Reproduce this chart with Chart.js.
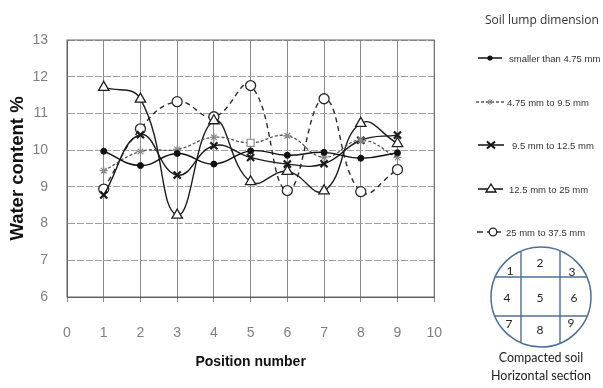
<!DOCTYPE html>
<html>
<head>
<meta charset="utf-8">
<script src="https://cdn.jsdelivr.net/npm/chart.js@4"></script>
<style>
  html,body{margin:0;padding:0;background:#fff;width:603px;height:388px;overflow:hidden;}
  #wrap{position:absolute;left:0;top:0;width:465px;height:388px;}
  #side{position:absolute;left:0;top:0;}
</style>
</head>
<body>
<div id="wrap"><canvas id="c" width="465" height="388"></canvas></div>
<svg id="side" width="603" height="388" xmlns="http://www.w3.org/2000/svg"></svg>
<script>
// ---- data ----
const positions = [1, 2, 3, 4, 5, 6, 7, 8, 9];
const seriesNames = [
  "smaller than 4.75 mm",
  "4.75 mm to 9.5 mm",
  "9.5 mm to 12.5 mm",
  "12.5 mm to 25 mm",
  "25 mm to 37.5 mm"
];
const smaller475 = [9.97, 9.58, 9.91, 9.62, 9.98, 9.86, 9.94, 9.78, 9.93];
const from475to95 = [9.44, 9.96, 10.02, 10.35, 10.20, 10.39, 9.81, 10.27, 9.80];
const from95to125 = [8.78, 10.42, 9.32, 10.12, 9.80, 9.62, 9.63, 10.27, 10.41];
const from125to25 = [11.71, 11.39, 8.23, 10.80, 9.14, 9.42, 8.89, 10.73, 10.18];
const from25to375 = [8.94, 10.58, 11.32, 10.91, 11.76, 8.90, 11.40, 8.87, 9.47];
const xTicks = [0, 1, 2, 3, 4, 5, 6, 7, 8, 9, 10];
const yTicks = [6, 7, 8, 9, 10, 11, 12, 13];
const legendTitle = "Soil lump dimension";
const diagramNumbers = ["1","2","3","4","5","6","7","8","9"];
const diagramCaption = ["Compacted soil", "Horizontal section"];

const pts = arr => positions.map((p, i) => ({x: p, y: arr[i]}));

const frame = {
  id: 'frame',
  beforeDatasetsDraw(chart) {
    const {ctx, chartArea: a} = chart;
    ctx.save();
    ctx.strokeStyle = '#6a6a6a';
    ctx.lineWidth = 1;
    ctx.strokeRect(a.left, a.top, a.right - a.left, a.bottom - a.top);
    ctx.restore();
  }
};

new Chart(document.getElementById('c'), {
  type: 'line',
  data: {
    datasets: [
      {label: seriesNames[0], data: pts(smaller475), borderColor: '#111', backgroundColor: '#111',
       borderWidth: 1.4, pointStyle: 'circle', pointRadius: 3, pointBorderWidth: 1},
      {label: seriesNames[1], data: pts(from475to95), borderColor: '#555', backgroundColor: '#fff',
       borderWidth: 1.3, borderDash: [3, 2],
       pointStyle: positions.map((p, i) => i === 4 ? 'rect' : 'star'),
       pointRadius: positions.map((p, i) => i === 4 ? 5 : 4),
       pointBorderColor: '#8a8a8a', pointBorderWidth: 1.2},
      {label: seriesNames[2], data: pts(from95to125), borderColor: '#1a1a1a', backgroundColor: '#1a1a1a',
       borderWidth: 1.4, pointStyle: 'crossRot', pointRadius: 5, pointBorderWidth: 2.2},
      {label: seriesNames[3], data: pts(from125to25), borderColor: '#1f1f1f', backgroundColor: '#fff',
       borderWidth: 1.4, pointStyle: 'triangle', pointRadius: 6, pointBorderWidth: 1.3},
      {label: seriesNames[4], data: pts(from25to375), borderColor: '#2a2a2a', backgroundColor: '#fff',
       borderWidth: 1.4, borderDash: [5, 4], pointStyle: 'circle', pointRadius: 5, pointBorderWidth: 1.3}
    ]
  },
  options: {
    responsive: false,
    animation: false,
    devicePixelRatio: 1,
    layout: {padding: {top: 40, right: 12, left: 0, bottom: 0}},
    elements: {line: {tension: 0.45, fill: false}},
    plugins: {legend: {display: false}, tooltip: {enabled: false}},
    scales: {
      x: {
        type: 'linear', min: 0, max: 10,
        afterBuildTicks: s => { s.ticks = xTicks.map(v => ({value: v})); },
        afterFit: s => { s.height = 91; },
        grid: {color: '#8a8a8a', lineWidth: 1, tickLength: 5, drawTicks: true},
        border: {color: '#555', width: 1},
        ticks: {color: '#7f7f7f', padding: 23, font: {family: 'Liberation Sans', size: 14}},
        title: {display: true, text: 'Position number', color: '#111',
                font: {family: 'Liberation Sans', size: 14, weight: 'bold'}, padding: {top: 0, bottom: 17}}
      },
      y: {
        type: 'linear', min: 6, max: 13,
        afterBuildTicks: s => { s.ticks = yTicks.map(v => ({value: v})); },
        afterFit: s => { s.width = 67; },
        grid: {color: '#a0a0a0', lineWidth: 1, drawTicks: false},
        border: {color: '#555', width: 1, dash: [7, 2]},
        ticks: {color: '#7f7f7f', padding: 19, font: {family: 'Liberation Sans', size: 14}},
        title: {display: true, text: 'Water content %', color: '#111',
                font: {family: 'Liberation Sans', size: 18.5, weight: 'bold'}, padding: {top: 7, bottom: 0}}
      }
    }
  },
  plugins: [frame]
});

// ---- side: legend + diagram (SVG) ----
const NS = 'http://www.w3.org/2000/svg';
const svg = document.getElementById('side');
function el(tag, attrs, text) {
  const e = document.createElementNS(NS, tag);
  for (const k in attrs) e.setAttribute(k, attrs[k]);
  if (text !== undefined) e.textContent = text;
  svg.appendChild(e);
  return e;
}
el('text', {x: 485, y: 24, 'font-family': 'Open Sans', 'font-size': 12, fill: '#333'}, legendTitle);

const legY = [58, 102, 145, 189, 232];
const textX = [509, 507, 512, 509, 506];
// item 1
el('line', {x1: 478, y1: legY[0], x2: 502, y2: legY[0], stroke: '#111', 'stroke-width': 1.5});
el('circle', {cx: 490, cy: legY[0], r: 2.6, fill: '#111'});
// item 2
el('line', {x1: 476, y1: legY[1], x2: 506, y2: legY[1], stroke: '#555', 'stroke-width': 1.3, 'stroke-dasharray': '3,2'});
[[-3,0,3,0],[0,-3,0,3],[-2.2,-2.2,2.2,2.2],[-2.2,2.2,2.2,-2.2]].forEach(d =>
  el('line', {x1: 490 + d[0], y1: legY[1] + d[1], x2: 490 + d[2], y2: legY[1] + d[3], stroke: '#8a8a8a', 'stroke-width': 1}));
// item 3
el('line', {x1: 478, y1: legY[2], x2: 504, y2: legY[2], stroke: '#111', 'stroke-width': 1.5});
el('path', {d: `M${487},${legY[2]-3.5} L${495},${legY[2]+3.5} M${487},${legY[2]+3.5} L${495},${legY[2]-3.5}`, stroke: '#111', 'stroke-width': 2});
// item 4
el('line', {x1: 478, y1: legY[3], x2: 503, y2: legY[3], stroke: '#111', 'stroke-width': 1.5});
el('path', {d: `M${491},${legY[3]-5} L${496},${legY[3]+3} L${486},${legY[3]+3} Z`, fill: '#fff', stroke: '#111', 'stroke-width': 1.3});
// item 5
el('line', {x1: 477, y1: legY[4], x2: 483, y2: legY[4], stroke: '#222', 'stroke-width': 1.4});
el('line', {x1: 487, y1: legY[4], x2: 501, y2: legY[4], stroke: '#222', 'stroke-width': 1.4});
el('circle', {cx: 493, cy: legY[4], r: 3.8, fill: '#fff', stroke: '#222', 'stroke-width': 1.3});
seriesNames.forEach((n, i) =>
  el('text', {x: textX[i], y: legY[i] + 3.5, 'font-family': 'Liberation Sans', 'font-size': 9.5, fill: '#333'}, n));

// diagram
const cx = 541, cy = 297, R = 50;
const lineCol = '#4d6f96';
el('circle', {cx, cy, r: R, fill: 'none', stroke: lineCol, 'stroke-width': 1.5});
[521, 560].forEach(x => { const h = Math.sqrt(R*R - (x-cx)*(x-cx));
  el('line', {x1: x, y1: cy - h, x2: x, y2: cy + h, stroke: lineCol, 'stroke-width': 1.4}); });
[277, 316].forEach(y => { const w = Math.sqrt(R*R - (y-cy)*(y-cy));
  el('line', {x1: cx - w, y1: y, x2: cx + w, y2: y, stroke: lineCol, 'stroke-width': 1.4}); });
const numPos = [[510,271],[540,263],[572,272],[507,298],[540,298],[574,298],[509,324],[540,330],[571,323]];
diagramNumbers.forEach((t, i) =>
  el('text', {x: numPos[i][0], y: numPos[i][1] + 4, 'text-anchor': 'middle', 'font-family': 'Lato', 'font-size': 12, fill: '#222'}, t));
el('text', {x: cx, y: 362, 'text-anchor': 'middle', 'font-family': 'Lato', 'font-size': 12.5, fill: '#222'}, diagramCaption[0]);
el('text', {x: cx, y: 380, 'text-anchor': 'middle', 'font-family': 'Lato', 'font-size': 12.5, fill: '#222'}, diagramCaption[1]);
</script>
</body>
</html>
